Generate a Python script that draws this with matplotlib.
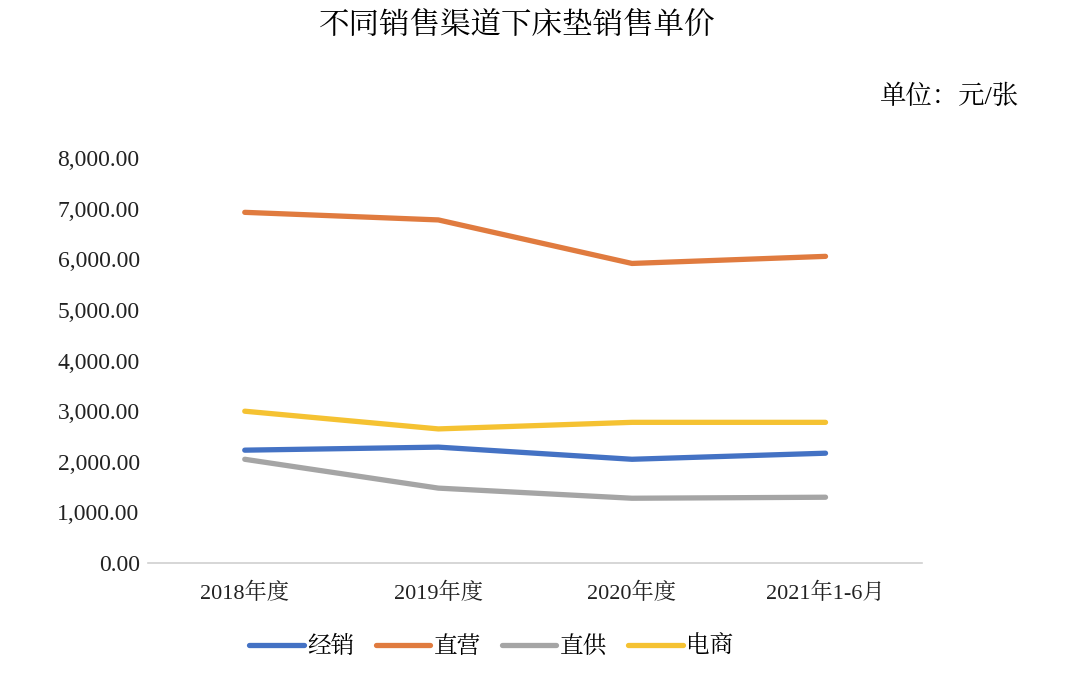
import matplotlib.pyplot as plt
from matplotlib.ticker import FuncFormatter

plt.rcParams['font.family'] = ['Liberation Serif', 'Noto Serif CJK SC', 'Noto Sans CJK SC', 'DejaVu Sans']

categories = ["2018年度", "2019年度", "2020年度", "2021年1-6月"]
jingxiao = [2230, 2290, 2050, 2170]
zhiying = [6930, 6780, 5920, 6060]
zhigong = [2050, 1480, 1280, 1300]
dianshang = [3000, 2650, 2780, 2780]

series = [
    ("经销", jingxiao, "#4472C4"),
    ("直营", zhiying, "#E07B3F"),
    ("直供", zhigong, "#A5A5A5"),
    ("电商", dianshang, "#F5C232"),
]

fig = plt.figure(figsize=(10.8, 6.92), dpi=100)
ax = fig.add_axes([0.137, 0.1864, 0.717, 0.585])

x = range(len(categories))
for name, vals, color in series:
    ax.plot(x, vals, color=color, lw=3.8, solid_capstyle="round", label=name)

ax.set_xlim(-0.5, 3.5)
ax.set_ylim(0, 8000)
ax.set_yticks(range(0, 8001, 1000))
ax.yaxis.set_major_formatter(FuncFormatter(lambda v, p: f"{v:,.2f}"))
ax.set_xticks(list(x))
ax.set_xticklabels(categories)
ax.tick_params(axis="both", length=0, colors="#222222")
ax.tick_params(axis="y", pad=6, labelsize=17)
ax.tick_params(axis="x", pad=14, labelsize=16)
for s in ["top", "right", "left"]:
    ax.spines[s].set_visible(False)
ax.spines["bottom"].set_color("#D0D0D0")
ax.spines["bottom"].set_linewidth(1.2)

fig.text(0.479, 0.962, "不同销售渠道下床垫销售单价", ha="center", va="center", fontsize=22)
fig.text(0.878, 0.86, "单位：元/张", ha="center", va="center", fontsize=19)

fig.legend(loc="center", bbox_to_anchor=(0.455, 0.065), ncol=4, frameon=False,
           fontsize=17, handlelength=2.3, handletextpad=0.15, columnspacing=0.9)

fig.savefig("out.png", dpi=100)
